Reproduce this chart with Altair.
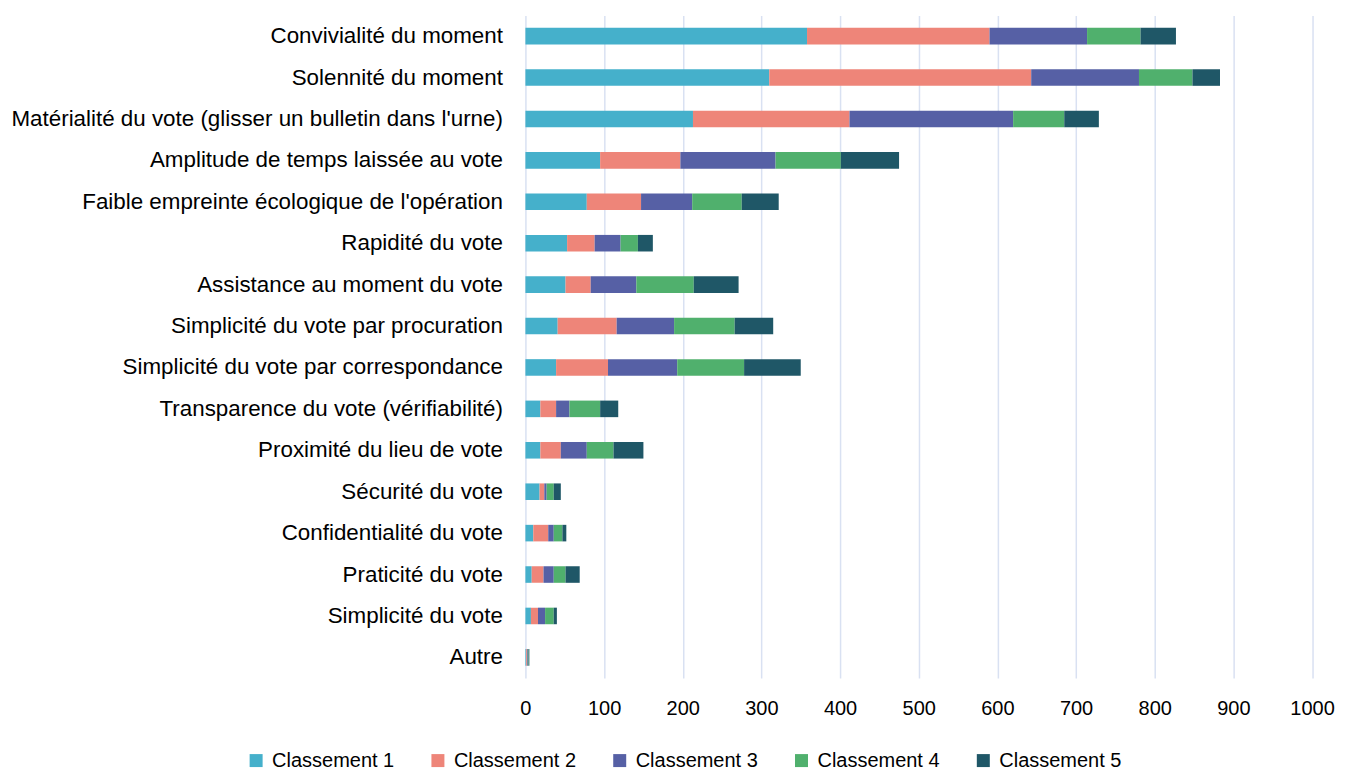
import altair as alt
import pandas as pd

categories = [
    "Convivialité du moment",
    "Solennité du moment",
    "Matérialité du vote (glisser un bulletin dans l'urne)",
    "Amplitude de temps laissée au vote",
    "Faible empreinte écologique de l'opération",
    "Rapidité du vote",
    "Assistance au moment du vote",
    "Simplicité du vote par procuration",
    "Simplicité du vote par correspondance",
    "Transparence du vote (vérifiabilité)",
    "Proximité du lieu de vote",
    "Sécurité du vote",
    "Confidentialité du vote",
    "Praticité du vote",
    "Simplicité du vote",
    "Autre",
]

series_names = ["Classement 1", "Classement 2", "Classement 3", "Classement 4", "Classement 5"]

classement_1 = [358, 310, 213, 95, 78, 53, 51, 41, 39, 19, 19, 18, 10, 8, 7, 1]
classement_2 = [232, 333, 199, 102, 69, 35, 32, 75, 66, 20, 26, 6, 19, 15, 9, 1]
classement_3 = [124, 137, 208, 121, 65, 33, 58, 73, 88, 17, 33, 3, 7, 13, 9, 1]
classement_4 = [68, 68, 65, 83, 63, 22, 73, 77, 85, 39, 34, 9, 11, 15, 11, 1]
classement_5 = [45, 35, 44, 74, 47, 19, 57, 49, 72, 23, 38, 9, 5, 18, 4, 1]

colors = ["#45B0CB", "#EE8579", "#5660A5", "#50B06D", "#1F5767"]
x_ticks = [0, 100, 200, 300, 400, 500, 600, 700, 800, 900, 1000]

series_values = [classement_1, classement_2, classement_3, classement_4, classement_5]
rows = []
for si, (name, vals) in enumerate(zip(series_names, series_values)):
    for cat, v in zip(categories, vals):
        rows.append({"Critère": cat, "Série": name, "Valeur": v, "ordre": si})
df = pd.DataFrame(rows)

FONT = "Liberation Sans"

chart = alt.Chart(df, padding={"left": 0, "top": 7, "right": 10, "bottom": 0}).mark_bar().encode(
    y=alt.Y(
        "Critère:N",
        sort=categories,
        title=None,
        scale=alt.Scale(paddingInner=0.6, paddingOuter=0.3),
        axis=alt.Axis(
            ticks=False, domain=False, labelLimit=700, labelPadding=23,
            labelFontSize=22.4, labelFont=FONT, labelColor="#000000",
            minExtent=517.6, maxExtent=517.6,
        ),
    ),
    x=alt.X(
        "Valeur:Q",
        stack="zero",
        title=None,
        scale=alt.Scale(domain=[0, 1000], nice=False),
        axis=alt.Axis(
            values=x_ticks, format="d", ticks=False, domain=False, grid=True,
            gridColor="#D9E1F2", gridWidth=1.5, labelFlush=False,
            labelFontSize=20, labelFont=FONT, labelColor="#000000", labelPadding=20,
        ),
    ),
    color=alt.Color(
        "Série:N",
        scale=alt.Scale(domain=series_names, range=colors),
        legend=alt.Legend(
            title=None, orient="none", direction="horizontal", columns=5,
            legendX=-279.6, legendY=736, symbolType="square", symbolSize=169,
            symbolStrokeWidth=0, labelFontSize=20, labelFont=FONT, labelColor="#000000",
            columnPadding=33, labelOffset=6, padding=0, labelLimit=300,
        ),
    ),
    order=alt.Order("ordre:Q", sort="ascending"),
).properties(
    width=787.5,
    height=663.4,
).configure_view(stroke=None)

chart.save("out.html", embed_options={"renderer": "svg", "actions": False})
